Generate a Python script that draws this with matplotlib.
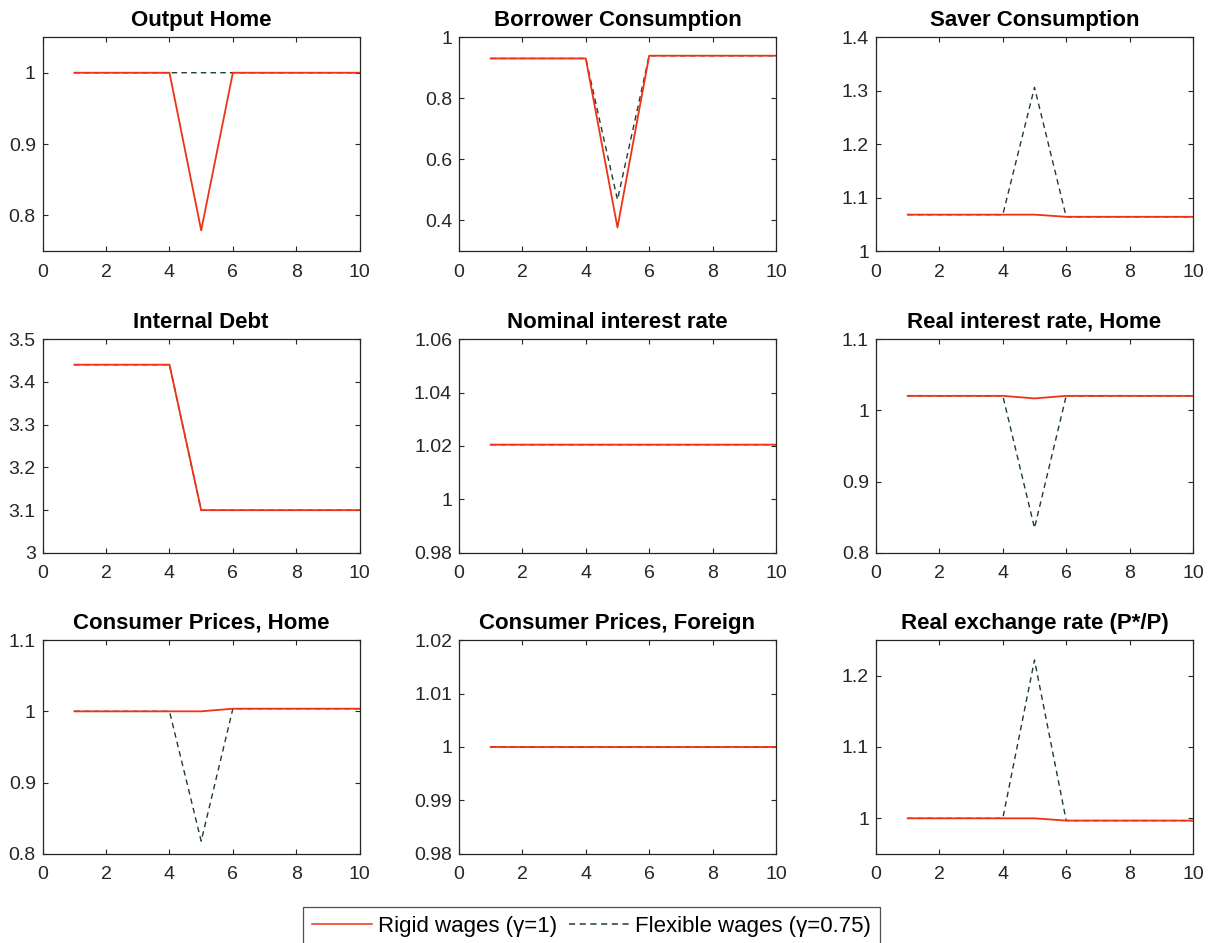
import numpy as np
import matplotlib
matplotlib.use("Agg")
import matplotlib.pyplot as plt

plt.rcParams['font.family'] = ['Liberation Sans', 'DejaVu Sans']

periods = [1, 2, 3, 4, 5, 6, 7, 8, 9, 10]

titles = ['Output Home', 'Borrower Consumption', 'Saver Consumption',
          'Internal Debt', 'Nominal interest rate', 'Real interest rate, Home',
          'Consumer Prices, Home', 'Consumer Prices, Foreign', 'Real exchange rate (P*/P)']

# rigid wages (gamma = 1)
rigid_output = [1, 1, 1, 1, 0.779, 1, 1, 1, 1, 1]
rigid_borrower = [0.93, 0.93, 0.93, 0.93, 0.377, 0.939, 0.939, 0.939, 0.939, 0.939]
rigid_saver = [1.068, 1.068, 1.068, 1.068, 1.068, 1.064, 1.064, 1.064, 1.064, 1.064]
rigid_debt = [3.44, 3.44, 3.44, 3.44, 3.1, 3.1, 3.1, 3.1, 3.1, 3.1]
rigid_nominal = [1.0205] * 10
rigid_real_rate = [1.0203, 1.0203, 1.0203, 1.0203, 1.0167, 1.0203, 1.0203, 1.0203, 1.0203, 1.0203]
rigid_cpi_home = [1.0, 1.0, 1.0, 1.0, 1.0, 1.0037, 1.0037, 1.0037, 1.0037, 1.0037]
rigid_cpi_foreign = [1.0] * 10
rigid_rer = [1.0, 1.0, 1.0, 1.0, 1.0, 0.9968, 0.9968, 0.9968, 0.9968, 0.9968]

# flexible wages (gamma = 0.75)
flex_output = [1, 1, 1, 1, 1, 1, 1, 1, 1, 1]
flex_borrower = [0.93, 0.93, 0.93, 0.93, 0.468, 0.939, 0.939, 0.939, 0.939, 0.939]
flex_saver = [1.068, 1.068, 1.068, 1.068, 1.306, 1.064, 1.064, 1.064, 1.064, 1.064]
flex_debt = [3.44, 3.44, 3.44, 3.44, 3.1, 3.1, 3.1, 3.1, 3.1, 3.1]
flex_nominal = [1.0205] * 10
flex_real_rate = [1.0203, 1.0203, 1.0203, 1.0203, 0.835, 1.0203, 1.0203, 1.0203, 1.0203, 1.0203]
flex_cpi_home = [1.0, 1.0, 1.0, 1.0, 0.818, 1.0037, 1.0037, 1.0037, 1.0037, 1.0037]
flex_cpi_foreign = [1.0] * 10
flex_rer = [1.0, 1.0, 1.0, 1.0, 1.222, 0.9968, 0.9968, 0.9968, 0.9968, 0.9968]

rigid = [rigid_output, rigid_borrower, rigid_saver, rigid_debt, rigid_nominal,
         rigid_real_rate, rigid_cpi_home, rigid_cpi_foreign, rigid_rer]
flex = [flex_output, flex_borrower, flex_saver, flex_debt, flex_nominal,
        flex_real_rate, flex_cpi_home, flex_cpi_foreign, flex_rer]

ylims = [(0.75, 1.05), (0.3, 1.0), (1.0, 1.4), (3.0, 3.5), (0.98, 1.06),
         (0.8, 1.1), (0.8, 1.1), (0.98, 1.02), (0.95, 1.25)]
yticks = [[0.8, 0.9, 1.0], [0.4, 0.6, 0.8, 1.0], [1.0, 1.1, 1.2, 1.3, 1.4],
          [3.0, 3.1, 3.2, 3.3, 3.4, 3.5], [0.98, 1.0, 1.02, 1.04, 1.06],
          [0.8, 0.9, 1.0, 1.1], [0.8, 0.9, 1.0, 1.1], [0.98, 0.99, 1.0, 1.01, 1.02],
          [1.0, 1.1, 1.2]]

red = '#EE3314'
green = '#1E3D2F'
axcol = '#262626'

fig = plt.figure(figsize=(12.13, 9.43), dpi=100)

lefts = [0.0352, 0.3784, 0.7222]
bottoms = [0.7338, 0.4136, 0.0944]
w, h = 0.2613, 0.2269


def fmt(v):
    s = ('%.2f' % v).rstrip('0').rstrip('.')
    return s


for i in range(9):
    r, c = divmod(i, 3)
    ax = fig.add_axes([lefts[c], bottoms[r], w, h])
    l2, = ax.plot(periods, flex[i], color=green, lw=1.0, ls=(0, (4, 3)),
                  zorder=1, snap=False)
    l1, = ax.plot(periods, rigid[i], color=red, lw=1.3, zorder=2, snap=False)
    ax.set_xlim(0, 10)
    ax.set_xticks([0, 2, 4, 6, 8, 10])
    ax.set_ylim(*ylims[i])
    ax.set_yticks(yticks[i])
    ax.set_yticklabels([fmt(v) for v in yticks[i]])
    ax.set_title(titles[i], fontsize=16, fontweight='bold', pad=8)
    ax.tick_params(direction='in', top=True, right=True, length=3.5, width=0.8,
                   colors=axcol, labelsize=14)
    ax.tick_params(axis='x', pad=9)
    ax.tick_params(axis='y', pad=5)
    for sp in ax.spines.values():
        sp.set_color(axcol)
        sp.set_linewidth(0.9)

leg = fig.legend([l1, l2], ['Rigid wages (γ=1)', 'Flexible wages (γ=0.75)'],
                 loc='upper center', bbox_to_anchor=(0.4876, 0.0382), ncol=2,
                 fontsize=16, frameon=True, fancybox=False, handlelength=2.7,
                 handletextpad=0.3, columnspacing=0.5, borderpad=0.4,
                 borderaxespad=0)
leg.get_frame().set_edgecolor(axcol)
leg.get_frame().set_linewidth(0.9)
for ln in leg.get_lines():
    ln.set_linewidth(1.1)

fig.savefig('out.png', dpi=100)
